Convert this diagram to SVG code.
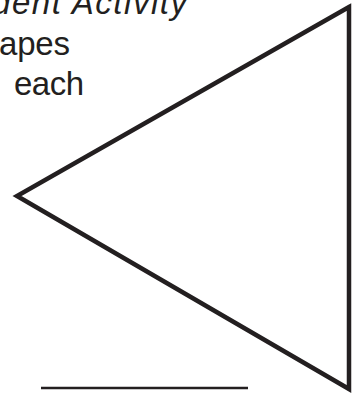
<svg xmlns="http://www.w3.org/2000/svg" width="361" height="396" viewBox="0 0 361 396">
<style>
.t{font-family:"Liberation Sans",Arial,sans-serif;font-size:33px;fill:#231f20}
.i{font-style:italic}
.s{fill:none;stroke:#231f20}
</style>
<rect width="361" height="396" fill="#fff"/>
<g id="text">
<text class="t i" x="-8" y="14" textLength="195" lengthAdjust="spacing">dent Activity</text>
<text class="t" x="-1" y="55" textLength="71">apes</text>
<text class="t" x="14" y="95" textLength="70">each</text>
</g>
<g id="triangle">
<polygon class="s" points="349,7 17,196 349,389" stroke-width="4.5" stroke-linejoin="miter" stroke-miterlimit="10"/>
</g>
<g id="answer-line">
<line class="s" x1="41" y1="388" x2="248" y2="388" stroke-width="2.6"/>
</g>
</svg>
